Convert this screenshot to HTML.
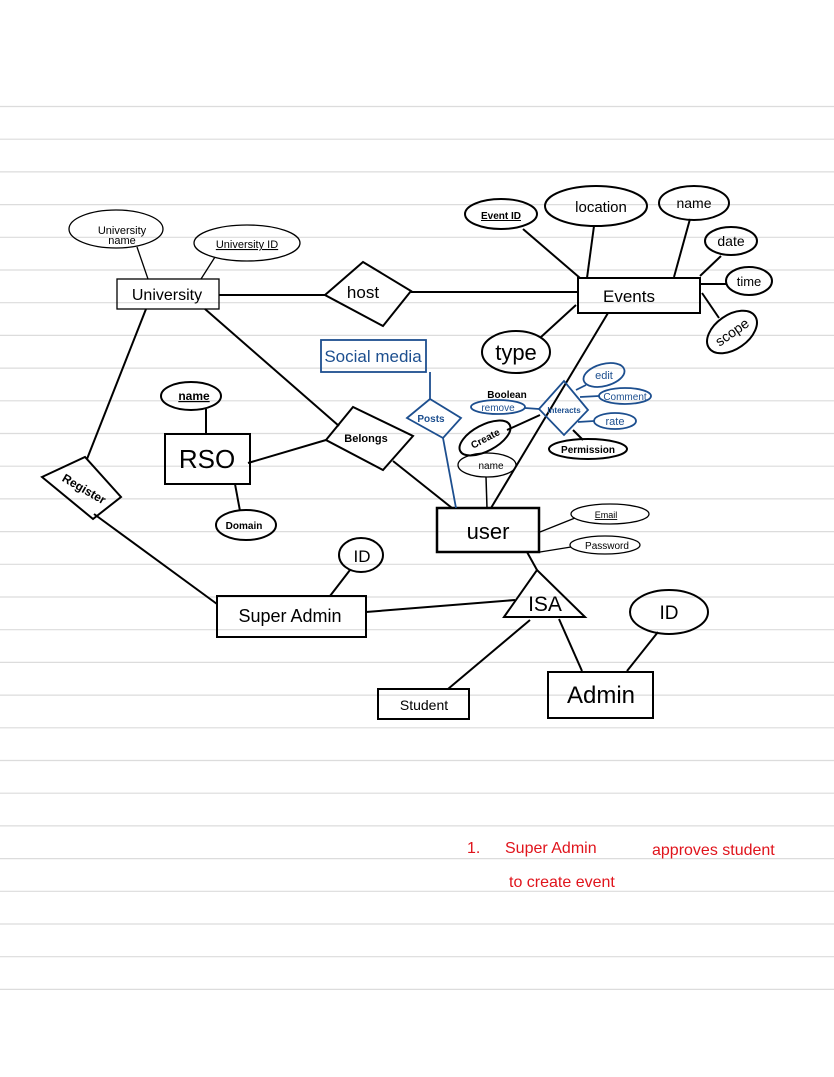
<!DOCTYPE html>
<html><head><meta charset="utf-8"><style>
html,body{margin:0;padding:0;background:#fff;}
svg{display:block;}
text{font-family:"Liberation Sans",sans-serif;}
</style></head><body>
<svg width="834" height="1077" viewBox="0 0 834 1077" xmlns="http://www.w3.org/2000/svg">
<g stroke="#dcdcdc" stroke-width="1.2">
<line x1="0" y1="106.5" x2="834" y2="106.5"/><line x1="0" y1="139.2" x2="834" y2="139.2"/><line x1="0" y1="171.9" x2="834" y2="171.9"/><line x1="0" y1="204.6" x2="834" y2="204.6"/><line x1="0" y1="237.3" x2="834" y2="237.3"/><line x1="0" y1="270" x2="834" y2="270"/><line x1="0" y1="302.7" x2="834" y2="302.7"/><line x1="0" y1="335.4" x2="834" y2="335.4"/><line x1="0" y1="368.1" x2="834" y2="368.1"/><line x1="0" y1="400.8" x2="834" y2="400.8"/><line x1="0" y1="433.5" x2="834" y2="433.5"/><line x1="0" y1="466.2" x2="834" y2="466.2"/><line x1="0" y1="498.9" x2="834" y2="498.9"/><line x1="0" y1="531.6" x2="834" y2="531.6"/><line x1="0" y1="564.3" x2="834" y2="564.3"/><line x1="0" y1="597" x2="834" y2="597"/><line x1="0" y1="629.7" x2="834" y2="629.7"/><line x1="0" y1="662.4" x2="834" y2="662.4"/><line x1="0" y1="695.1" x2="834" y2="695.1"/><line x1="0" y1="727.8" x2="834" y2="727.8"/><line x1="0" y1="760.5" x2="834" y2="760.5"/><line x1="0" y1="793.2" x2="834" y2="793.2"/><line x1="0" y1="825.9" x2="834" y2="825.9"/><line x1="0" y1="858.6" x2="834" y2="858.6"/><line x1="0" y1="891.3" x2="834" y2="891.3"/><line x1="0" y1="924" x2="834" y2="924"/><line x1="0" y1="956.7" x2="834" y2="956.7"/><line x1="0" y1="989.4" x2="834" y2="989.4"/>
</g>
<g stroke="#000" fill="none" stroke-width="2">
<!-- connectors -->
<line x1="137" y1="247" x2="148" y2="279" stroke-width="1.3"/>
<line x1="215" y1="257" x2="201" y2="279" stroke-width="1.3"/>
<line x1="219" y1="295" x2="325" y2="295"/>
<line x1="411" y1="292" x2="578" y2="292"/>
<line x1="146" y1="309" x2="87" y2="459"/>
<line x1="94" y1="514" x2="217" y2="604"/>
<line x1="205" y1="309" x2="339" y2="426"/>
<line x1="326" y1="440" x2="248" y2="463"/>
<line x1="393" y1="461" x2="452" y2="508"/>
<line x1="206" y1="409" x2="206" y2="434"/>
<line x1="235" y1="484" x2="240" y2="511"/>
<line x1="523" y1="229" x2="580" y2="278"/>
<line x1="594" y1="226" x2="587" y2="278"/>
<line x1="690" y1="219" x2="674" y2="277"/>
<line x1="721" y1="256" x2="700" y2="276"/>
<line x1="726" y1="284" x2="700" y2="284"/>
<line x1="719" y1="318" x2="702" y2="293"/>
<line x1="541" y1="337" x2="576" y2="305"/>
<line x1="608" y1="313" x2="491" y2="508"/>
<line x1="507" y1="430" x2="540" y2="415"/>
<line x1="486" y1="477" x2="487" y2="508" stroke-width="1.5"/>
<line x1="573" y1="430" x2="583" y2="440"/>
<line x1="540" y1="532" x2="575" y2="518" stroke-width="1.3"/>
<line x1="540" y1="552" x2="571" y2="547" stroke-width="1.3"/>
<line x1="527" y1="552" x2="537" y2="570"/>
<line x1="366" y1="612" x2="515" y2="600"/>
<line x1="350" y1="570" x2="330" y2="596"/>
<line x1="530" y1="620" x2="448" y2="689"/>
<line x1="559" y1="619" x2="582" y2="671"/>
<line x1="658" y1="632" x2="627" y2="671"/>
<!-- shapes -->
<rect x="117" y="279" width="102" height="30" stroke-width="1.3"/>
<ellipse cx="116" cy="229" rx="47" ry="19" stroke-width="1.3"/>
<ellipse cx="247" cy="243" rx="53" ry="18" stroke-width="1.3"/>
<polygon points="325,295 363,262 411,291 383,326"/>
<rect x="578" y="278" width="122" height="35"/>
<ellipse cx="501" cy="214" rx="36" ry="15"/>
<ellipse cx="596" cy="206" rx="51" ry="20"/>
<ellipse cx="694" cy="203" rx="35" ry="17"/>
<ellipse cx="731" cy="241" rx="26" ry="14"/>
<ellipse cx="749" cy="281" rx="23" ry="14"/>
<ellipse cx="732" cy="332" rx="28" ry="17" transform="rotate(-35 732 332)"/>
<ellipse cx="516" cy="352" rx="34" ry="21"/>
<polygon points="326,440 353,407 413,436 383,470"/>
<rect x="165" y="434" width="85" height="50"/>
<ellipse cx="191" cy="396" rx="30" ry="14"/>
<ellipse cx="246" cy="525" rx="30" ry="15"/>
<polygon points="42,477 85,457 121,497 93,519"/>
<ellipse cx="485" cy="438" rx="28" ry="13" transform="rotate(-28 485 438)"/>
<ellipse cx="487" cy="465" rx="29" ry="12" stroke-width="1.3"/>
<ellipse cx="588" cy="449" rx="39" ry="10"/>
<rect x="437" y="508" width="102" height="44" stroke-width="2.5"/>
<ellipse cx="610" cy="514" rx="39" ry="10" stroke-width="1.3"/>
<ellipse cx="605" cy="545" rx="35" ry="9" stroke-width="1.3"/>
<polygon points="504,617 537,570 585,617"/>
<rect x="217" y="596" width="149" height="41"/>
<ellipse cx="361" cy="555" rx="22" ry="17"/>
<rect x="378" y="689" width="91" height="30"/>
<rect x="548" y="672" width="105" height="46"/>
<ellipse cx="669" cy="612" rx="39" ry="22"/>
</g>
<g stroke="#1d4f8f" fill="none" stroke-width="1.8">
<rect x="321" y="340" width="105" height="32"/>
<line x1="430" y1="372" x2="430" y2="399"/>
<polygon points="407,418 430,399 461,418 443,438"/>
<line x1="443" y1="438" x2="456" y2="508"/>
<polygon points="539,409 564,381 588,410 564,435"/>
<ellipse cx="604" cy="375" rx="21" ry="11" transform="rotate(-15 604 375)"/>
<ellipse cx="625" cy="396" rx="26" ry="8"/>
<ellipse cx="615" cy="421" rx="21" ry="8"/>
<ellipse cx="498" cy="407" rx="27" ry="7"/>
<line x1="525" y1="408" x2="539" y2="409"/>
<line x1="576" y1="390" x2="586" y2="385"/>
<line x1="580" y1="397" x2="599" y2="396"/>
<line x1="578" y1="422" x2="594" y2="421"/>
</g>
<g fill="#000" font-size="14" text-anchor="middle">
<text x="122" y="234" font-size="11">University</text>
<text x="122" y="244" font-size="11">name</text>
<text x="247" y="248" font-size="11" text-decoration="underline">University ID</text>
<text x="167" y="300" font-size="16">University</text>
<text x="363" y="298" font-size="17">host</text>
<text x="629" y="302" font-size="17">Events</text>
<text x="501" y="219" font-size="10" font-weight="bold" text-decoration="underline">Event ID</text>
<text x="601" y="212" font-size="15">location</text>
<text x="694" y="208" font-size="14">name</text>
<text x="731" y="246" font-size="14">date</text>
<text x="749" y="286" font-size="13">time</text>
<text x="732" y="337" font-size="14" transform="rotate(-35 732 332)">scope</text>
<text x="516" y="360" font-size="22">type</text>
<text x="373" y="303" font-size="1"> </text>
<text x="366" y="442" font-size="11" font-weight="bold">Belongs</text>
<text x="207" y="468" font-size="26">RSO</text>
<text x="194" y="400" font-size="12" font-weight="bold" text-decoration="underline">name</text>
<text x="244" y="529" font-size="10" font-weight="bold">Domain</text>
<text x="84" y="493" font-size="12" font-weight="bold" transform="rotate(30 84 489)">Register</text>
<text x="485" y="442" font-size="10" font-weight="bold" transform="rotate(-28 485 438)">Create</text>
<text x="491" y="469" font-size="10">name</text>
<text x="507" y="398" font-size="10" font-weight="bold">Boolean</text>
<text x="588" y="453" font-size="10" font-weight="bold">Permission</text>
<text x="488" y="539" font-size="22">user</text>
<text x="606" y="518" font-size="9" text-decoration="underline">Email</text>
<text x="607" y="549" font-size="10">Password</text>
<text x="545" y="611" font-size="21">ISA</text>
<text x="290" y="622" font-size="18">Super Admin</text>
<text x="362" y="562" font-size="17">ID</text>
<text x="424" y="710" font-size="14">Student</text>
<text x="601" y="703" font-size="24">Admin</text>
<text x="669" y="619" font-size="19">ID</text>
</g>
<g fill="#1d4f8f" text-anchor="middle">
<text x="373" y="362" font-size="17">Social media</text>
<text x="431" y="422" font-size="10" font-weight="bold">Posts</text>
<text x="564" y="413" font-size="8" font-weight="bold">Interacts</text>
<text x="604" y="379" font-size="11">edit</text>
<text x="625" y="400" font-size="10">Comment</text>
<text x="615" y="425" font-size="11">rate</text>
<text x="498" y="411" font-size="10">remove</text>
</g>
<g fill="#e0141c" font-size="16">
<text x="467" y="853">1.</text>
<text x="505" y="853">Super Admin</text>
<text x="652" y="855">approves student</text>
<text x="509" y="887">to create event</text>
</g>
</svg>
</body></html>
